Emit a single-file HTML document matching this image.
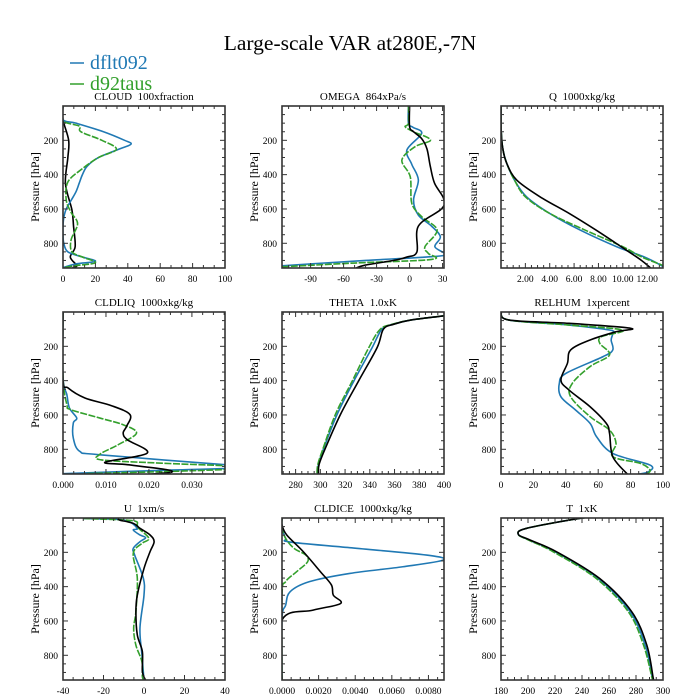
<!DOCTYPE html>
<html><head><meta charset="utf-8"><style>
html,body{margin:0;padding:0;background:#fff;}
svg{display:block;font-family:"Liberation Serif",serif;}
</style></head><body>
<svg id="chart" width="700" height="700" viewBox="0 0 700 700" xmlns="http://www.w3.org/2000/svg">
<text x="350" y="50" font-size="21.5" text-anchor="middle" fill="#000">Large-scale VAR at280E,-7N</text>
<g>
<line x1="70" y1="63" x2="84" y2="63" stroke="#2079b4" stroke-width="1.5"/>
<text x="90" y="69" font-size="20" fill="#2079b4">dflt092</text>
<line x1="70" y1="84" x2="84" y2="84" stroke="#33a02c" stroke-width="1.5"/>
<text x="90" y="90" font-size="20" fill="#33a02c">d92taus</text>
</g>
</svg>
<script>
// ---- data (pressure levels in hPa, values per series) ----
const pressureTicks=[200,400,600,800];
// CLOUD
const cloudBlueP=[0,80,100,150,200,222,250,300,350,400,450,500,550,600,650,700,750,800,850,880,905,920,942];
const cloudBlueV=[0,0,8,25,38,42,35,22,15,12,10,8,5,2,0.5,0,0,0.5,3,12,20,8,0];
const cloudGreenP=[0,86,117,150,200,252,300,365,443,548,620,686,780,850,880,913,930,942];
const cloudGreenV=[0,0,10,11,24,33,22,12,3,2,5,9,5,5.5,12,20,8,0];
const cloudBlackP=[0,80,200,300,453,605,700,820,880,930,942];
const cloudBlackV=[0,0,3.5,3,1.5,5.5,6.5,7.5,4.5,8.5,6];
// OMEGA
const omegaBlueP=[0,101,124,160,256,340,431,548,636,700,762,820,863,878,900,920,931];
const omegaBlueV=[-1,-1,3,11,-2.4,2,8,3.6,8,20,28,23,32,20,-40,-90,-116];
const omegaGreenP=[0,100,121,150,198,237,315,412,567,645,723,820,859,894,915,937];
const omegaGreenV=[-1,-1,-4,3.6,19,5,-7,0.6,2,11,25,14,17,20,-50,-116];
const omegaBlackP=[0,120,150,190,250,350,450,540,600,700,850,880,898,927,945];
const omegaBlackV=[0,0,3.6,11,15.8,18.8,22.7,31,29,8,6.7,-2.4,-13,-40,-49];
// Q
const qBlueP=[0,150,250,334,431,529,626,723,820,878,927,945];
const qBlueV=[0,0.02,0.15,0.47,1.1,2.1,4.0,6.5,9.5,11.7,13.1,13.4];
const qGreenP=[0,150,250,334,431,529,626,723,820,878,927,945];
const qGreenV=[0,0.02,0.15,0.47,1.1,2.0,4.0,6.9,10.0,11.5,13.2,13.5];
const qBlackP=[0,150,250,334,431,529,626,723,820,898,945];
const qBlackV=[0,0.02,0.15,0.47,1.28,3.2,5.6,7.8,9.87,11.5,12.3];
// CLDLIQ
const liqBlueP=[0,380,482,560,618,647,735,812,832,890,905,925,942];
const liqBlueV=[0,0,0.0009,0.0015,0.0032,0.0024,0.0024,0.0039,0.0086,0.0377,0.045,0.02,0];
const liqGreenP=[0,380,540,569,618,657,706,774,829,862,881,906,925,942];
const liqGreenV=[0,0,0.0009,0.0018,0.0086,0.014,0.0171,0.0128,0.0086,0.009,0.023,0.045,0.03,0.005];
const liqBlackP=[0,394,443,501,546,598,666,706,745,822,875,890,919,935,945];
const liqBlackV=[0,0,0.0012,0.0051,0.0113,0.0156,0.0148,0.014,0.015,0.0196,0.0098,0.015,0.0241,0.025,0.02];
// THETA
const thetaBlueP=[10,22,47,71,100,206,401,595,790,888,945];
const thetaBlueV=[410,400,373,359,349.8,342,327.2,313.7,303,298.5,297.8];
const thetaGreenP=[10,22,47,71,100,206,401,595,790,888,945];
const thetaGreenV=[410,400,373,358.5,348.5,339.3,325.9,312.3,302.5,298,297.3];
const thetaBlackP=[10,22,47,71,100,206,401,595,790,888,945];
const thetaBlackV=[410,400,373,359.5,351,346,331,316.4,304.3,299,298.5];
// RELHUM
const rhBlueP=[0,47,76,105,124,163,221,260,358,416,494,571,649,727,824,892,931,945];
const rhBlueV=[0,5,42,67,69,68,69,63,40,36,37,46,55,59,69,92,91,85];
const rhGreenP=[0,47,76,105,144,183,250,318,416,494,610,688,765,843,882,921,945];
const rhGreenV=[0,5,42,75,62,61,67,55,44,43,55,67,71,69,86,92,90];
const rhBlackP=[0,47,66,95,115,163,221,299,396,455,552,649,707,843,945];
const rhBlackV=[0,5,42,80,71,55,43,41,37,42,55,65,67,69,78];
// U
const uBlueP=[3,12,60,70,99,115,138,177,216,352,449,643,799,945];
const uBlueV=[-30,-10,-3.3,-5.3,-2,0.8,-2,-5.3,-4.6,-0.3,0,-2,-1,0];
const uGreenP=[3,15,41,60,119,148,206,352,546,643,741,838,925,945];
const uGreenV=[-30,-6,-3.3,-2.6,2.4,-1,-5.3,-3.3,-4,-5.1,-4,-1,-0.8,0];
const uBlackP=[3,12,31,60,99,138,196,294,449,546,682,779,896,945];
const uBlackV=[-12.7,-12,-5.3,-2,3,5,3,0,-3.3,-4,-3.3,-0.8,-0.8,0.8];
// CLDICE
const iceBlueP=[0,50,119,140,173,216,245,284,323,371,430,508,585,945];
const iceBlueV=[0,0,0.0002,0.00044,0.0037,0.0079,0.0088,0.0066,0.0037,0.0015,0.00044,0.0002,0,0];
const iceGreenP=[0,60,119,177,216,255,313,371,449,945];
const iceGreenV=[0,0,0.0002,0.00066,0.0013,0.0014,0.0008,0.0002,0,0];
const iceBlackP=[0,41,99,196,313,390,449,498,537,595,945];
const iceBlackV=[0,0,0.00026,0.00116,0.0021,0.0027,0.0028,0.0032,0.0017,0,0];
// T
const tBlueP=[-4,2,60,95,128,196,352,546,741,935,945];
const tBlueV=[252,238.5,199,192.8,200.8,219.8,251.8,275.6,286.8,292.2,292.6];
const tGreenP=[-4,2,60,95,128,196,352,546,741,935,945];
const tGreenV=[252,238.5,199,192.8,200.2,218.5,250.5,274.3,285.6,292,292.4];
const tBlackP=[-4,2,60,95,128,196,352,546,741,935,945];
const tBlackV=[252,238.5,199,192.8,201.5,221,253,276.8,288,292.8,293.2];

// ---- drawing ----
const NS='http://www.w3.org/2000/svg';
const svg=document.getElementById('chart');
const COLX=[63,282,501], ROWY=[106,312,518], W=162, H=162, PMAX=944;
const BLUE='#2079b4', GREEN='#33a02c', BLACK='#000';
function mk(tag,attrs,parent){const e=document.createElementNS(NS,tag);for(const k in attrs)e.setAttribute(k,attrs[k]);(parent||svg).appendChild(e);return e;}
function smoothPath(pts){
  let d='M'+pts[0][0].toFixed(2)+','+pts[0][1].toFixed(2);
  for(let i=0;i<pts.length-1;i++){
    const p0=pts[i-1]||pts[i],p1=pts[i],p2=pts[i+1],p3=pts[i+2]||p2;
    const c1=[p1[0]+(p2[0]-p0[0])/6,p1[1]+(p2[1]-p0[1])/6];
    const c2=[p2[0]-(p3[0]-p1[0])/6,p2[1]-(p3[1]-p1[1])/6];
    d+=' C'+c1[0].toFixed(2)+','+c1[1].toFixed(2)+' '+c2[0].toFixed(2)+','+c2[1].toFixed(2)+' '+p2[0].toFixed(2)+','+p2[1].toFixed(2);
  }
  return d;
}
let panelIdx=0;
function panel(col,row,name,title,xmin,xmax,xticks,xlabels,nMinor,series){
  const x0=COLX[col], y0=ROWY[row];
  const g=mk('g',{});
  
  
  const xs=v=>x0+(v-xmin)/(xmax-xmin)*W;
  const ys=p=>y0+p/PMAX*H;
  const t=mk('text',{x:x0+W/2,y:y0-6,'font-size':11,'text-anchor':'middle',fill:'#000'},g);
  t.textContent=title.replace('  ','\u00a0\u00a0');
  
  
  const cid='clip'+(panelIdx++);
  const cp=mk('clipPath',{id:cid},g);
  mk('rect',{x:x0,y:y0,width:W,height:H},cp);
  const sg=mk('g',{'clip-path':'url(#'+cid+')'},g);
  series.forEach(s=>{
    const pts=s.p.map((p,i)=>[xs(s.v[i]),ys(p)]);
    const path=mk('path',{d:smoothPath(pts),fill:'none',stroke:s.c,'stroke-width':1.6,'stroke-linejoin':'round'},sg);
    if(s.dash)path.setAttribute('stroke-dasharray',s.dash);
    
    
  });
  const tk=mk('g',{stroke:'#333','stroke-width':1},g);
  
  
  for(let p=50;p<PMAX;p+=50){
    const y=ys(p), major=(p%200===0), L=major?5:3;
    mk('line',{x1:x0,y1:y,x2:x0+L,y2:y},tk);
    mk('line',{x1:x0+W,y1:y,x2:x0+W-L,y2:y},tk);
  }
  const step=xticks[1]-xticks[0];
  for(let v=xticks[0]-step;v<=xmax+1e-9;v+=step/nMinor){
    if(v<xmin-1e-9)continue;
    const isMaj=xticks.some(t=>Math.abs(t-v)<step*1e-3);
    const x=xs(v),L=isMaj?5:3;
    mk('line',{x1:x,y1:y0+H,x2:x,y2:y0+H-L},tk);
    mk('line',{x1:x,y1:y0,x2:x,y2:y0+L},tk);
  }
  mk('rect',{x:x0,y:y0,width:W,height:H,fill:'none',stroke:'#333','stroke-width':1.6},g);
  xticks.forEach((v,i)=>{
    const l=mk('text',{x:xs(v),y:y0+H+14,'font-size':9.5,'text-anchor':'middle',fill:'#000'},g);
    l.textContent=xlabels[i];
    
    
  });
  pressureTicks.forEach(p=>{
    const l=mk('text',{x:x0-5,y:ys(p)+3.5,'font-size':9.5,'text-anchor':'end',fill:'#000'},g);
    l.textContent=String(p);
    
    
  });
  const yl=mk('text',{x:0,y:0,'font-size':12,'text-anchor':'middle',fill:'#000',transform:'translate('+(x0-24)+','+(y0+H/2)+') rotate(-90)'},g);
  yl.textContent='Pressure [hPa]';
  
  
}
const GD='7,1.5';
panel(0,0,'cloud','CLOUD  100xfraction',0,100,[0,20,40,60,80,100],['0','20','40','60','80','100'],3,[
 {n:'black',c:BLACK,p:cloudBlackP,v:cloudBlackV},{n:'blue',c:BLUE,p:cloudBlueP,v:cloudBlueV},{n:'green',c:GREEN,p:cloudGreenP,v:cloudGreenV,dash:GD}]);
panel(1,0,'omega','OMEGA  864xPa/s',-116,31.3,[-90,-60,-30,0,30],['-90','-60','-30','0','30'],3,[
 {n:'blue',c:BLUE,p:omegaBlueP,v:omegaBlueV},{n:'green',c:GREEN,p:omegaGreenP,v:omegaGreenV,dash:GD},{n:'black',c:BLACK,p:omegaBlackP,v:omegaBlackV}]);
panel(2,0,'q','Q  1000xkg/kg',0,13.3,[2,4,6,8,10,12],['2.00','4.00','6.00','8.00','10.00','12.00'],4,[
 {n:'blue',c:BLUE,p:qBlueP,v:qBlueV},{n:'green',c:GREEN,p:qGreenP,v:qGreenV,dash:GD},{n:'black',c:BLACK,p:qBlackP,v:qBlackV}]);
panel(0,1,'cldliq','CLDLIQ  1000xkg/kg',0,0.0377,[0,0.01,0.02,0.03],['0.000','0.010','0.020','0.030'],4,[
 {n:'blue',c:BLUE,p:liqBlueP,v:liqBlueV},{n:'green',c:GREEN,p:liqGreenP,v:liqGreenV,dash:GD},{n:'black',c:BLACK,p:liqBlackP,v:liqBlackV}]);
panel(1,1,'theta','THETA  1.0xK',269,400,[280,300,320,340,360,380,400],['280','300','320','340','360','380','400'],4,[
 {n:'blue',c:BLUE,p:thetaBlueP,v:thetaBlueV},{n:'green',c:GREEN,p:thetaGreenP,v:thetaGreenV,dash:GD},{n:'black',c:BLACK,p:thetaBlackP,v:thetaBlackV}]);
panel(2,1,'relhum','RELHUM  1xpercent',0,100,[0,20,40,60,80,100],['0','20','40','60','80','100'],4,[
 {n:'blue',c:BLUE,p:rhBlueP,v:rhBlueV},{n:'green',c:GREEN,p:rhGreenP,v:rhGreenV,dash:GD},{n:'black',c:BLACK,p:rhBlackP,v:rhBlackV}]);
panel(0,2,'u','U  1xm/s',-40,40,[-40,-20,0,20,40],['-40','-20','0','20','40'],4,[
 {n:'blue',c:BLUE,p:uBlueP,v:uBlueV},{n:'green',c:GREEN,p:uGreenP,v:uGreenV,dash:GD},{n:'black',c:BLACK,p:uBlackP,v:uBlackV}]);
panel(1,2,'cldice','CLDICE  1000xkg/kg',0,0.00885,[0,0.002,0.004,0.006,0.008],['0.0000','0.0020','0.0040','0.0060','0.0080'],4,[
 {n:'blue',c:BLUE,p:iceBlueP,v:iceBlueV},{n:'green',c:GREEN,p:iceGreenP,v:iceGreenV,dash:GD},{n:'black',c:BLACK,p:iceBlackP,v:iceBlackV}]);
panel(2,2,'t','T  1xK',180,300,[180,200,220,240,260,280,300],['180','200','220','240','260','280','300'],4,[
 {n:'blue',c:BLUE,p:tBlueP,v:tBlueV},{n:'green',c:GREEN,p:tGreenP,v:tGreenV,dash:GD},{n:'black',c:BLACK,p:tBlackP,v:tBlackV}]);
</script>
</body></html>
